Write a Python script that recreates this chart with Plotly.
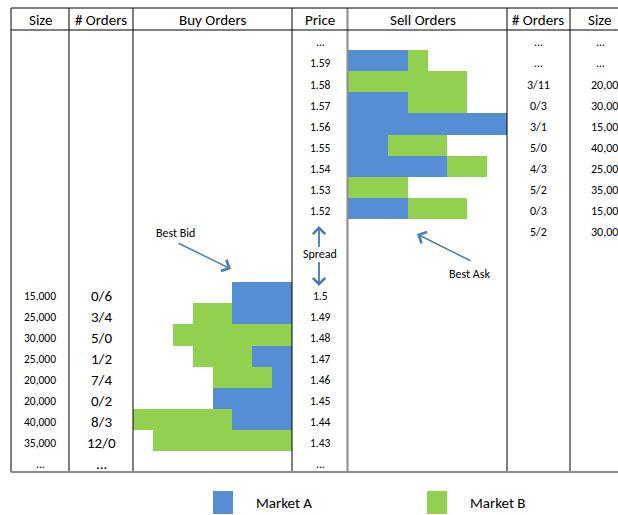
import plotly.graph_objects as go

# ---- order book data ----
sell_prices = ["1.59", "1.58", "1.57", "1.56", "1.55", "1.54", "1.53", "1.52"]
sell_market_a = [3, 0, 3, 8, 2, 5, 0, 3]
sell_market_b = [1, 6, 3, 0, 3, 2, 3, 3]
sell_orders = ["...", "...", "3/11", "0/3", "3/1", "5/0", "4/3", "5/2", "0/3", "5/2"]
sell_sizes = ["...", "...", "20,000", "30,000", "15,000", "40,000", "25,000", "35,000", "15,000", "30,000"]

buy_prices = ["1.5", "1.49", "1.48", "1.47", "1.46", "1.45", "1.44", "1.43"]
buy_market_a = [3, 3, 0, 2, 1, 4, 3, 0]
buy_market_b = [0, 2, 6, 3, 3, 0, 5, 7]
buy_orders = ["0/6", "3/4", "5/0", "1/2", "7/4", "0/2", "8/3", "12/0", "..."]
buy_sizes = ["15,000", "25,000", "30,000", "25,000", "20,000", "20,000", "40,000", "35,000", "..."]

headers = ["Size", "# Orders", "Buy Orders", "Price", "Sell Orders", "# Orders", "Size"]

# ---- layout constants (pixel canvas) ----
W, H = 618, 515
BLUE = "#558ed5"
GREEN = "#92d050"
ARROW = "#4a7ebb"
FONT = "Calibri, Carlito, Lato, sans-serif"

SELL_ROW0 = 1    # row of the first ask price
BUY_ROW0 = 12    # row of the best bid price
N_ROWS_LAST = 20


def px(x):
    return x / W


def py(y):
    return 1 - y / H


sell_rows = [SELL_ROW0 + i for i in range(len(sell_prices))]
buy_rows = [BUY_ROW0 + i for i in range(len(buy_prices))]

fig = go.Figure()

# buy side bars, growing leftwards from the price column
fig.add_trace(go.Bar(y=buy_rows, x=buy_market_a, orientation="h", width=1,
                     marker=dict(color=BLUE, line=dict(width=0)),
                     xaxis="x", yaxis="y", name="Market A", showlegend=False))
fig.add_trace(go.Bar(y=buy_rows, x=buy_market_b, orientation="h", width=1,
                     marker=dict(color=GREEN, line=dict(width=0)),
                     xaxis="x", yaxis="y", name="Market B", showlegend=False))
# sell side bars
fig.add_trace(go.Bar(y=sell_rows, x=sell_market_a, orientation="h", width=1,
                     marker=dict(color=BLUE, line=dict(width=0)),
                     xaxis="x2", yaxis="y", name="Market A", showlegend=False))
fig.add_trace(go.Bar(y=sell_rows, x=sell_market_b, orientation="h", width=1,
                     marker=dict(color=GREEN, line=dict(width=0)),
                     xaxis="x2", yaxis="y", name="Market B", showlegend=False))

row_top_px, row_bottom_px = 28.85, 471.95

fig.update_layout(
    width=W, height=H,
    margin=dict(l=0, r=0, t=0, b=0),
    paper_bgcolor="white", plot_bgcolor="rgba(0,0,0,0)",
    barmode="stack", bargap=0,
    font=dict(family=FONT, color="#000000"),
    xaxis=dict(domain=[px(133), px(292)], range=[8, 0], visible=False, fixedrange=True),
    xaxis2=dict(domain=[px(348), px(507)], range=[0, 8], visible=False, fixedrange=True,
                anchor="y"),
    yaxis=dict(domain=[py(row_bottom_px), py(row_top_px)], range=[N_ROWS_LAST + 0.5, -0.5],
               visible=False, fixedrange=True),
)

shapes = []
# outer table lines
for x in [11, 69, 133, 292, 507, 570]:
    shapes.append(dict(type="line", xref="paper", yref="paper",
                       x0=px(x), x1=px(x), y0=py(8), y1=py(472),
                       line=dict(color="black", width=1)))
shapes.append(dict(type="line", xref="paper", yref="paper",
                   x0=px(347.5), x1=px(347.5), y0=py(8), y1=py(472),
                   line=dict(color="#8c8c8c", width=2)))
for y in [8, 30]:
    shapes.append(dict(type="line", xref="paper", yref="paper",
                       x0=px(11), x1=1.02, y0=py(y), y1=py(y),
                       line=dict(color="black", width=1)))
shapes.append(dict(type="line", xref="paper", yref="paper",
                   x0=px(11), x1=1.02, y0=py(472), y1=py(472),
                   line=dict(color="#8c8c8c", width=2)))

# spread arrow shafts
shapes.append(dict(type="line", xref="paper", yref="paper",
                   x0=px(319), x1=px(319), y0=py(228), y1=py(247),
                   line=dict(color=ARROW, width=1.5)))
shapes.append(dict(type="line", xref="paper", yref="paper",
                   x0=px(319), x1=px(319), y0=py(262), y1=py(284),
                   line=dict(color=ARROW, width=1.5)))

# legend swatches
shapes.append(dict(type="rect", xref="paper", yref="paper",
                   x0=px(213), x1=px(233), y0=py(491), y1=py(514),
                   fillcolor=BLUE, line=dict(width=0)))
shapes.append(dict(type="rect", xref="paper", yref="paper",
                   x0=px(427), x1=px(447), y0=py(491), y1=py(514),
                   fillcolor=GREEN, line=dict(width=0)))

ann = []
header_x = [40, 101, 212, 320, 423, 538, 599]
for text, x in zip(headers, header_x):
    ann.append(dict(text=text, x=px(x), y=py(20), xref="paper", yref="paper",
                    showarrow=False, xanchor="center", yanchor="middle",
                    font=dict(size=15)))


def cell(text, x, row, size, anchor="center"):
    ann.append(dict(text=text, x=px(x), y=row, xref="paper", yref="y",
                    showarrow=False, xanchor=anchor, yanchor="middle", yshift=-3,
                    font=dict(size=size)))


def label(text, x, y, size=12):
    ann.append(dict(text=text, x=px(x), y=py(y), xref="paper", yref="paper",
                    showarrow=False, xanchor="center", yanchor="middle",
                    font=dict(size=size)))


def arrow(tip_x, tip_y, tail_x, tail_y):
    ann.append(dict(text="", x=px(tip_x), y=py(tip_y), xref="paper", yref="paper",
                    showarrow=True, ax=tail_x - tip_x, ay=tail_y - tip_y,
                    arrowhead=4, arrowsize=1.6, arrowwidth=1.5, arrowcolor=ARROW,
                    standoff=0, startstandoff=0, borderpad=0, font=dict(size=1)))


# price column
cell("...", 320, 0, 11.5)
for r, p in zip(sell_rows, sell_prices):
    cell(p, 320, r, 11.5)
for r, p in zip(buy_rows, buy_prices):
    cell(p, 320, r, 11.5)
cell("...", 320, N_ROWS_LAST, 11.5)

# buy side: sizes and order counts
for i, (s, o) in enumerate(zip(buy_sizes, buy_orders)):
    cell(s, 40, BUY_ROW0 + i, 11.5)
    cell(o, 101, BUY_ROW0 + i, 15)

# sell side: order counts and sizes
for i, (o, s) in enumerate(zip(sell_orders, sell_sizes)):
    cell(o, 538, i, 12)
    if s == "...":
        cell(s, 600, i, 12)
    else:
        cell(s, 589, i, 12, anchor="left")

# callouts
label("Best Bid", 175, 233)
arrow(231, 269, 178, 243)
label("Best Ask", 469, 274)
arrow(417, 234, 471, 261)
label("Spread", 320, 254)
arrow(319, 226, 319, 247)
arrow(319, 286, 319, 262)

# legend labels
ann.append(dict(text="Market A", x=px(254), y=py(503), xref="paper", yref="paper",
                showarrow=False, xanchor="left", yanchor="middle", font=dict(size=15)))
ann.append(dict(text="Market B", x=px(468), y=py(503), xref="paper", yref="paper",
                showarrow=False, xanchor="left", yanchor="middle", font=dict(size=15)))

fig.update_layout(shapes=shapes, annotations=ann)
fig.write_html("out.html")
